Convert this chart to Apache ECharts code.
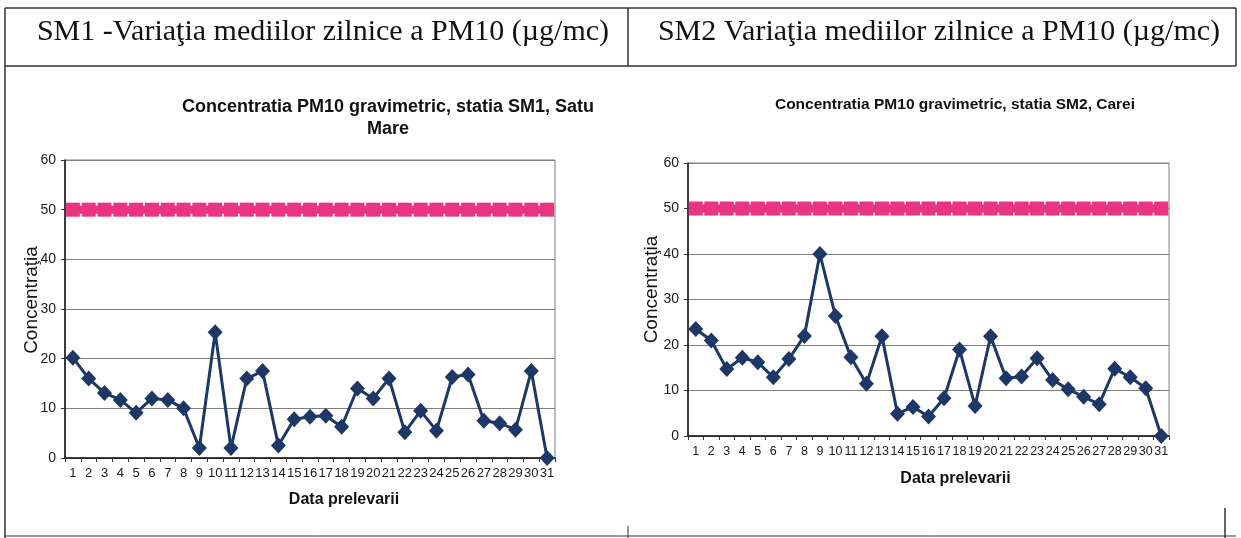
<!DOCTYPE html>
<html>
<head>
<meta charset="utf-8">
<script src="https://cdn.jsdelivr.net/npm/echarts@6/dist/echarts.min.js"></script>
<style>
  html, body { margin: 0; padding: 0; background: #fff; }
  #chart { width: 1241px; height: 538px; }
</style>
</head>
<body>
<div id="chart"></div>
<script>
// days of the month (x axis categories)
const days = ['1','2','3','4','5','6','7','8','9','10','11','12','13','14','15','16',
  '17','18','19','20','21','22','23','24','25','26','27','28','29','30','31'];

// SM1 Satu Mare daily PM10
const sm1Values = [20.2, 16, 13.1, 11.7, 9.1, 12, 11.7, 10, 2, 25.3, 2, 16, 17.5, 2.5, 7.8, 8.3,
  8.5, 6.3, 14, 12, 16, 5.2, 9.5, 5.5, 16.3, 16.8, 7.5, 7, 5.7, 17.5, 0];

// SM2 Carei daily PM10
const sm2Values = [23.5, 21, 14.7, 17.2, 16.2, 12.9, 16.9, 22, 40, 26.4, 17.3, 11.5, 21.9, 4.9, 6.4, 4.3,
  8.3, 19, 6.6, 21.9, 12.7, 13.1, 17.1, 12.3, 10.3, 8.6, 7, 14.8, 12.9, 10.5, 0];

// daily limit value line (50 ug/mc)
const limitValues = [50, 50, 50, 50, 50, 50, 50, 50, 50, 50, 50, 50, 50, 50, 50, 50,
  50, 50, 50, 50, 50, 50, 50, 50, 50, 50, 50, 50, 50, 50, 50];

const yTicks = { min: 0, max: 60, interval: 10 };

const NAVY = '#1d3767';
const PINK = '#e9357f';
const SANS = 'Liberation Sans, Arial, sans-serif';
const SERIF = 'Liberation Serif, Times New Roman, serif';

const chart = echarts.init(document.getElementById('chart'));

function makeX(gridIndex, fontSize, nameGap, namePadLeft) {
  return {
    type: 'category',
    gridIndex: gridIndex,
    data: days,
    boundaryGap: true,
    axisLine: { lineStyle: { color: '#111', width: 1.5 } },
    axisTick: { show: true, length: 4, lineStyle: { color: '#333' } },
    axisLabel: { interval: 0, fontSize: fontSize, color: '#1a1a1a', fontFamily: SANS, margin: 9, hideOverlap: false },
    splitLine: { show: false },
    name: 'Data prelevarii',
    nameLocation: 'middle',
    nameGap: nameGap,
    nameMoveOverlap: false,
    nameTextStyle: {
      fontSize: 16, fontWeight: 'bold', color: '#111', fontFamily: SANS,
      padding: [0, 0, 0, namePadLeft]
    }
  };
}

function makeY(gridIndex, nameGap, namePadBottom) {
  return {
    type: 'value',
    gridIndex: gridIndex,
    min: yTicks.min,
    max: yTicks.max,
    interval: yTicks.interval,
    axisLine: { show: true, lineStyle: { color: '#111', width: 1.5 } },
    axisTick: { show: true, length: 4, lineStyle: { color: '#333' } },
    axisLabel: { fontSize: 14, color: '#1a1a1a', fontFamily: SANS, margin: 9 },
    splitLine: { show: true, lineStyle: { color: '#808080', width: 1 } },
    name: 'Concentraţia',
    nameLocation: 'middle',
    nameGap: nameGap,
    nameMoveOverlap: false,
    nameTextStyle: {
      fontSize: 19, color: '#111', fontFamily: SANS,
      padding: [0, 0, 0, namePadBottom]
    }
  };
}

function valueSeries(idx, values) {
  return {
    type: 'line',
    xAxisIndex: idx,
    yAxisIndex: idx,
    data: values,
    symbol: 'diamond',
    symbolSize: [15, 16],
    showAllSymbol: true,
    itemStyle: { color: NAVY },
    lineStyle: { color: NAVY, width: 3 },
    z: 3,
    animation: false
  };
}

function limitSeries(idx) {
  return {
    type: 'line',
    xAxisIndex: idx,
    yAxisIndex: idx,
    data: limitValues,
    symbol: 'rect',
    symbolSize: 14,
    showAllSymbol: true,
    itemStyle: { color: PINK },
    lineStyle: { color: PINK, width: 8 },
    z: 2,
    animation: false
  };
}

const lineColor = '#333';
function seg(x1, y1, x2, y2, w) {
  return {
    type: 'line',
    shape: { x1: x1, y1: y1, x2: x2, y2: y2 },
    style: { stroke: lineColor, lineWidth: w || 1.5 },
    silent: true
  };
}

const option = {
  backgroundColor: '#fff',
  animation: false,
  title: [
    {
      text: 'SM1 -Variaţia mediilor zilnice a PM10 (µg/mc)',
      left: 318, top: 12, textAlign: 'center',
      textStyle: { fontFamily: SERIF, fontSize: 30, fontWeight: 'normal', color: '#111' }
    },
    {
      text: 'SM2 Variaţia mediilor zilnice a PM10 (µg/mc)',
      left: 934, top: 12, textAlign: 'center',
      textStyle: { fontFamily: SERIF, fontSize: 30, fontWeight: 'normal', color: '#111' }
    },
    {
      text: 'Concentratia PM10 gravimetric, statia SM1, Satu\nMare',
      left: 383, top: 91, textAlign: 'center',
      textStyle: { fontFamily: SANS, fontSize: 18, fontWeight: 'bold', color: '#111', lineHeight: 22, align: 'center' }
    },
    {
      text: 'Concentratia PM10 gravimetric, statia SM2, Carei',
      left: 950, top: 92, textAlign: 'center',
      textStyle: { fontFamily: SANS, fontSize: 15.5, fontWeight: 'bold', color: '#111' }
    }
  ],
  grid: [
    { left: 65, top: 160, width: 490, height: 298, show: true, borderColor: '#808080', borderWidth: 1, backgroundColor: 'transparent' },
    { left: 688, top: 163, width: 481, height: 273, show: true, borderColor: '#808080', borderWidth: 1, backgroundColor: 'transparent' }
  ],
  xAxis: [
    makeX(0, 13, 34, 68),
    makeX(1, 12.5, 35, 54)
  ],
  yAxis: [
    makeY(0, 24, 18),
    makeY(1, 27, 20)
  ],
  series: [
    limitSeries(0),
    valueSeries(0, sm1Values),
    limitSeries(1),
    valueSeries(1, sm2Values)
  ],
  graphic: [
    // header table borders
    seg(5, 8, 1236, 8),
    seg(5, 66, 1236, 66),
    seg(5, 8, 5, 538),
    seg(628, 8, 628, 66),
    seg(1236, 8, 1236, 66),
    seg(1225, 508, 1225, 538),
    seg(628, 526, 628, 538, 1),
    seg(5, 536, 1236, 536, 1)
  ]
};

chart.setOption(option);
</script>
</body>
</html>
